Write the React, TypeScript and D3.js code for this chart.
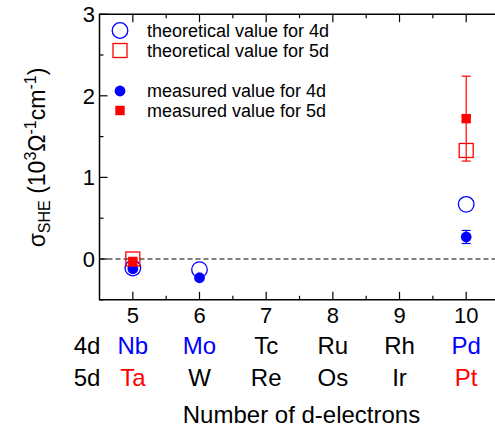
import React from "react";
import * as d3 from "d3";

const electrons = [5, 6, 7, 8, 9, 10];
const elements4d = ["Nb", "Mo", "Tc", "Ru", "Rh", "Pd"];
const elements5d = ["Ta", "W", "Re", "Os", "Ir", "Pt"];
const colors4d = ["#0000ff", "#0000ff", "#000", "#000", "#000", "#0000ff"];
const colors5d = ["#ff0000", "#000", "#000", "#000", "#000", "#ff0000"];

const theo4dX = [5, 6, 10];
const theo4d = [-0.11, -0.13, 0.67];
const theo5dX = [5, 10];
const theo5d = [0.0, 1.33];
const meas4dX = [5, 6, 10];
const meas4d = [-0.12, -0.23, 0.27];
const meas4dErr = [0.02, 0.03, 0.08];
const meas5dX = [5, 10];
const meas5d = [-0.03, 1.72];
const meas5dErr = [0.02, 0.52];

const yTicks = [0, 1, 2, 3];
const yMinor = [-0.5, 0.5, 1.5, 2.5];
const xMinor = [5.5, 6.5, 7.5, 8.5, 9.5];

const legendLabels = [
  "theoretical value for 4d",
  "theoretical value for 5d",
  "measured value for 4d",
  "measured value for 5d",
];

const BLUE = "#0000ff";
const RED = "#ff0000";
const FONT = "'Liberation Sans', Arial, sans-serif";

export default function App() {
  const x = d3.scaleLinear().domain([4.5, 10.45]).range([99.5, 496.2]);
  const y = d3.scaleLinear().domain([-0.5, 3]).range([299.8, 14.2]);
  const x0 = x(4.5), x1 = x(10.45), yT = y(3), yB = y(-0.5);
  const legendY = [30.5, 50.5, 91, 110.5];
  const lx = 120;
  const tx = 147;

  return (
    <svg
      width={495}
      height={427}
      style={{ position: "absolute", left: 0, top: 0, background: "#fff" }}
      fontFamily={FONT}
    >
      <rect x={0} y={0} width={495} height={427} fill="#fff" />
      {/* dashed zero line */}
      <line x1={x0} x2={x1} y1={y(0)} y2={y(0)} stroke="#000" strokeWidth={1.2} strokeDasharray="5,3" />
      {/* frame */}
      <path d={`M${x1},${yT}H${x0}V${yB}H${x1}`} fill="none" stroke="#000" strokeWidth={1.5} />
      {/* y ticks */}
      {yTicks.map((t) => (
        <g key={"yt" + t}>
          <line x1={x0} x2={x0 + 8} y1={y(t)} y2={y(t)} stroke="#000" strokeWidth={1.2} />
          <text x={95} y={y(t)} dy="0.36em" textAnchor="end" fontSize={22}>{t}</text>
        </g>
      ))}
      {yMinor.map((t) => (
        <line key={"ym" + t} x1={x0} x2={x0 + 4} y1={y(t)} y2={y(t)} stroke="#000" strokeWidth={1.2} />
      ))}
      {/* x ticks */}
      {electrons.map((t) => (
        <g key={"xt" + t}>
          <line x1={x(t)} x2={x(t)} y1={yB} y2={yB - 8} stroke="#000" strokeWidth={1.2} />
          <line x1={x(t)} x2={x(t)} y1={yT} y2={yT + 8} stroke="#000" strokeWidth={1.2} />
          <text x={x(t)} y={323} textAnchor="middle" fontSize={22}>{t}</text>
        </g>
      ))}
      {xMinor.map((t) => (
        <g key={"xm" + t}>
          <line x1={x(t)} x2={x(t)} y1={yB} y2={yB - 4} stroke="#000" strokeWidth={1.2} />
          <line x1={x(t)} x2={x(t)} y1={yT} y2={yT + 4} stroke="#000" strokeWidth={1.2} />
        </g>
      ))}
      {/* element rows */}
      <text x={87} y={353.5} textAnchor="middle" fontSize={24}>4d</text>
      <text x={87} y={386} textAnchor="middle" fontSize={24}>5d</text>
      {electrons.map((t, i) => (
        <g key={"el" + t}>
          <text x={x(t)} y={353.5} textAnchor="middle" fontSize={24} fill={colors4d[i]}>{elements4d[i]}</text>
          <text x={x(t)} y={386} textAnchor="middle" fontSize={24} fill={colors5d[i]}>{elements5d[i]}</text>
        </g>
      ))}
      <text x={301.5} y={423} textAnchor="middle" fontSize={24}>Number of d-electrons</text>
      {/* y label */}
      <text transform={`translate(45,157.5) rotate(-90)`} textAnchor="middle" fontSize={23}>
        <tspan>σ</tspan>
        <tspan fontSize={16} dy={5}>SHE</tspan>
        <tspan dy={-5}> (10</tspan>
        <tspan fontSize={16} dy={-9}>3</tspan>
        <tspan dy={9}>Ω</tspan>
        <tspan fontSize={16} dy={-9}>-1</tspan>
        <tspan dy={9}>cm</tspan>
        <tspan fontSize={16} dy={-9}>-1</tspan>
        <tspan dy={9}>)</tspan>
      </text>

      {/* theoretical 4d */}
      {theo4dX.map((v, i) => (
        <circle key={"t4" + i} cx={x(v)} cy={y(theo4d[i])} r={7.8} fill="none" stroke={BLUE} strokeWidth={1.3} />
      ))}
      {/* measured 4d */}
      {meas4dX.map((v, i) => (
        <g key={"m4" + i}>
          <line x1={x(v)} x2={x(v)} y1={y(meas4d[i] - meas4dErr[i])} y2={y(meas4d[i] + meas4dErr[i])} stroke={BLUE} strokeWidth={1.2} />
          <line x1={x(v) - 4.5} x2={x(v) + 4.5} y1={y(meas4d[i] - meas4dErr[i])} y2={y(meas4d[i] - meas4dErr[i])} stroke={BLUE} strokeWidth={1.2} />
          <line x1={x(v) - 4.5} x2={x(v) + 4.5} y1={y(meas4d[i] + meas4dErr[i])} y2={y(meas4d[i] + meas4dErr[i])} stroke={BLUE} strokeWidth={1.2} />
          <circle cx={x(v)} cy={y(meas4d[i])} r={5.4} fill={BLUE} />
        </g>
      ))}
      {/* measured 5d */}
      {meas5dX.map((v, i) => (
        <g key={"m5" + i}>
          <line x1={x(v)} x2={x(v)} y1={y(meas5d[i] - meas5dErr[i])} y2={y(meas5d[i] + meas5dErr[i])} stroke={RED} strokeWidth={1.2} />
          <line x1={x(v) - 4.5} x2={x(v) + 4.5} y1={y(meas5d[i] - meas5dErr[i])} y2={y(meas5d[i] - meas5dErr[i])} stroke={RED} strokeWidth={1.2} />
          <line x1={x(v) - 4.5} x2={x(v) + 4.5} y1={y(meas5d[i] + meas5dErr[i])} y2={y(meas5d[i] + meas5dErr[i])} stroke={RED} strokeWidth={1.2} />
          <rect x={x(v) - 4.7} y={y(meas5d[i]) - 4.7} width={9.4} height={9.4} fill={RED} />
        </g>
      ))}
      {/* theoretical 5d */}
      {theo5dX.map((v, i) => (
        <rect key={"t5" + i} x={x(v) - 7} y={y(theo5d[i]) - 7} width={14} height={14} fill="none" stroke={RED} strokeWidth={1.3} />
      ))}

      {/* legend */}
      <circle cx={lx} cy={legendY[0]} r={7.8} fill="none" stroke={BLUE} strokeWidth={1.3} />
      <rect x={lx - 7} y={legendY[1] - 7} width={14} height={14} fill="none" stroke={RED} strokeWidth={1.3} />
      <circle cx={lx} cy={legendY[2]} r={5.4} fill={BLUE} />
      <rect x={lx - 4.7} y={legendY[3] - 4.7} width={9.4} height={9.4} fill={RED} />
      {legendLabels.map((l, i) => (
        <text key={l} x={tx} y={legendY[i]} dy="0.35em" fontSize={18}>{l}</text>
      ))}
    </svg>
  );
}
